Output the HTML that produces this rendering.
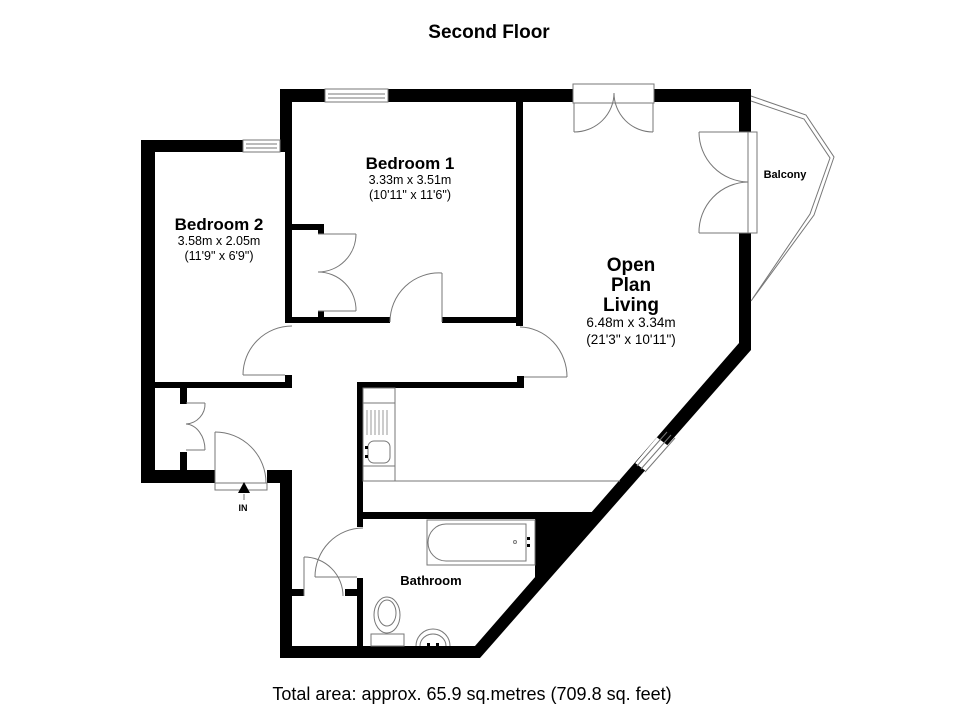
<!DOCTYPE html>
<html><head><meta charset="utf-8"><style>
html,body{margin:0;padding:0;background:#fff;}
svg{display:block;font-family:"Liberation Sans",Arial,sans-serif;}
</style></head><body>
<svg width="980" height="712" viewBox="0 0 980 712" xmlns="http://www.w3.org/2000/svg">
<rect width="980" height="712" fill="#fff"/>
<text x="489" y="38" font-size="19" font-weight="bold" text-anchor="middle">Second Floor</text>

<g fill="#000">
  <rect x="141" y="140" width="102" height="12"/>
  <rect x="141" y="140" width="14" height="343"/>
  <rect x="280" y="89" width="12" height="63"/>
  <rect x="285" y="140" width="7" height="183"/>
  <rect x="155" y="382" width="137" height="6"/>
  <rect x="285" y="375" width="7" height="13"/>
  <rect x="280" y="89" width="45" height="13"/>
  <rect x="388" y="89" width="185" height="13"/>
  <rect x="654" y="89" width="97" height="13"/>
  <rect x="739" y="89" width="12" height="43"/>
  <polygon points="739,233 751,233 751,350 480,658 475,646 739,343"/>
  <rect x="292" y="317" width="98" height="6"/>
  <rect x="442" y="317" width="81" height="6"/>
  <rect x="516" y="89" width="7" height="237"/>
  <rect x="292" y="224" width="32" height="6"/>
  <rect x="318" y="224" width="6" height="10"/>
  <rect x="318" y="311" width="6" height="6"/>
  <rect x="357" y="382" width="167" height="6"/>
  <rect x="517" y="376" width="7" height="12"/>
  <rect x="357" y="382" width="6" height="145"/>
  <rect x="357" y="512" width="235" height="7"/>
  <polygon points="535,519 592,519 540,577 535,577"/>
  <rect x="357" y="578" width="6" height="70"/>
  <rect x="345" y="589" width="18" height="7"/>
  <rect x="292" y="589" width="12" height="7"/>
  <rect x="280" y="470" width="12" height="188"/>
  <rect x="280" y="646" width="200" height="12"/>
  <rect x="141" y="470" width="74" height="13"/>
  <rect x="267" y="470" width="25" height="13"/>
  <rect x="180" y="388" width="7" height="16"/>
  <rect x="180" y="452" width="7" height="18"/>
</g>

<g fill="none" stroke="#777" stroke-width="1">
  <rect x="243" y="140" width="37" height="12" fill="#fff"/>
  <line x1="246" y1="144" x2="277" y2="144"/><line x1="246" y1="148" x2="277" y2="148"/>
  <rect x="325" y="89" width="63" height="13" fill="#fff"/>
  <line x1="328" y1="94" x2="385" y2="94"/><line x1="328" y1="98" x2="385" y2="98"/>
  <!-- top doors -->
  <rect x="573" y="84" width="81" height="19" fill="#fff"/>
  <line x1="574" y1="103" x2="574" y2="132"/><line x1="653" y1="103" x2="653" y2="132"/>
  <path d="M574,132 A40,39 0 0 0 614,93"/><path d="M653,132 A39,39 0 0 1 614,93"/>
  <!-- right doors -->
  <rect x="748" y="132" width="9" height="101" fill="#fff"/>
  <line x1="699" y1="132" x2="748" y2="132"/><line x1="699" y1="233" x2="748" y2="233"/>
  <path d="M699,132 A50,50 0 0 0 748,182"/><path d="M699,233 A50,50 0 0 1 748,182"/>
  <polyline points="751,96 806,115 834,157 814,215 751,301"/>
  <polyline points="751,101 804,119 830,158 810,214 753,298"/>
  <polygon points="636,463 657,438 673,450 652,475" fill="#fff" stroke="#fff"/>
  <line x1="637" y1="466" x2="667" y2="432"/><line x1="641" y1="469" x2="671" y2="435"/><line x1="645" y1="472" x2="675" y2="438"/>
  <line x1="442" y1="273" x2="442" y2="322"/><path d="M442,273 A49,49 0 0 0 390,322"/>
  <line x1="243" y1="375" x2="285" y2="375"/><path d="M292,326 A49,49 0 0 0 243,375"/>
  <line x1="318" y1="234" x2="356" y2="234"/><path d="M356,234 A38,38 0 0 1 318,272"/>
  <line x1="318" y1="311" x2="356" y2="311"/><path d="M356,311 A38,38 0 0 0 318,272"/>
  <path d="M520,327 A48,50 0 0 1 567,377"/>
  <line x1="524" y1="377" x2="567" y2="377"/>
  <line x1="186" y1="403" x2="205" y2="403"/><path d="M205,403 A20,20 0 0 1 186,424"/>
  <line x1="186" y1="450" x2="205" y2="450"/><path d="M205,450 A20,26 0 0 0 186,424"/>
  <line x1="215" y1="432" x2="215" y2="483"/><path d="M215,432 A51,51 0 0 1 266,483"/>
  <rect x="215" y="483" width="52" height="7"/>
  <line x1="244" y1="494" x2="244" y2="500"/>
  <rect x="363" y="388" width="32" height="93"/>
  <line x1="395" y1="481" x2="620" y2="481"/>
  <line x1="363" y1="403" x2="395" y2="403"/><line x1="363" y1="466" x2="395" y2="466"/>
  <g stroke="#999"><line x1="367" y1="410" x2="367" y2="435"/><line x1="371" y1="410" x2="371" y2="435"/><line x1="375" y1="410" x2="375" y2="435"/><line x1="379" y1="410" x2="379" y2="435"/><line x1="383" y1="410" x2="383" y2="435"/><line x1="387" y1="410" x2="387" y2="435"/></g>
  <rect x="368" y="441" width="22" height="22" rx="6"/>
  <line x1="315" y1="577" x2="357" y2="577"/><path d="M363,528 A48,49 0 0 0 315,577"/>
  <line x1="304" y1="557" x2="304" y2="596"/><path d="M304,557 A39,39 0 0 1 343,596"/>
  <rect x="427" y="520" width="108" height="45"/>
  <path d="M446,524 L526,524 L526,561 L446,561 A18,18.5 0 0 1 446,524 Z"/>
  <circle cx="515" cy="542" r="1.5"/>
  <rect x="371" y="634" width="33" height="12"/>
  <ellipse cx="387" cy="615" rx="13" ry="18"/><ellipse cx="387" cy="613" rx="9" ry="13"/>
  <path d="M416,646 A17,17 0 0 1 450,646"/><path d="M420,646 A13,12 0 0 1 446,646"/>
</g>
<g fill="#000">
  <polygon points="244,482 238,493 250,493"/>
  <rect x="365" y="446" width="3" height="3"/><rect x="365" y="455" width="3" height="3"/>
  <rect x="527" y="537" width="3" height="3"/><rect x="527" y="544" width="3" height="3"/>
  <rect x="427" y="643" width="3" height="3"/><rect x="436" y="643" width="3" height="3"/>
</g>

<text x="243" y="511" font-size="9" font-weight="bold" text-anchor="middle">IN</text>
<g text-anchor="middle">
<text x="410" y="169" font-size="17" font-weight="bold">Bedroom 1</text>
<text x="410" y="184" font-size="12.5">3.33m x 3.51m</text>
<text x="410" y="199" font-size="12.5">(10'11" x 11'6")</text>
<text x="219" y="230" font-size="17" font-weight="bold">Bedroom 2</text>
<text x="219" y="245" font-size="12.5">3.58m x 2.05m</text>
<text x="219" y="260" font-size="12.5">(11'9" x 6'9")</text>
<text x="631" y="271" font-size="19" font-weight="bold">Open</text>
<text x="631" y="291" font-size="19" font-weight="bold">Plan</text>
<text x="631" y="311" font-size="19" font-weight="bold">Living</text>
<text x="631" y="327" font-size="13.5">6.48m x 3.34m</text>
<text x="631" y="344" font-size="13.5">(21'3" x 10'11")</text>
<text x="785" y="178" font-size="11" font-weight="bold">Balcony</text>
<text x="431" y="585" font-size="13" font-weight="bold">Bathroom</text>
<text x="472" y="700" font-size="18">Total area: approx. 65.9 sq.metres (709.8 sq. feet)</text>
</g>
</svg>
</body></html>
